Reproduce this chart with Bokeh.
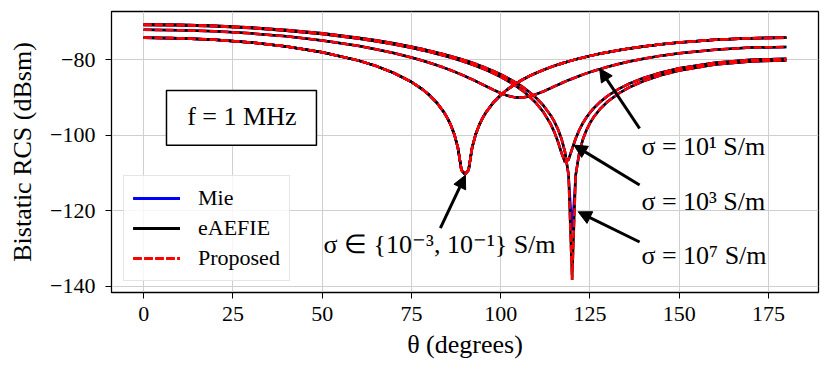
from bokeh.plotting import figure
from bokeh.models import Range1d, FixedTicker, Label, Arrow, NormalHead, BoxAnnotation
from bokeh.embed import file_html
from bokeh.resources import INLINE

# ---------------- data ----------------
theta = [0, 10, 20, 30, 40, 50, 60, 65, 70, 75, 78, 80, 82, 84, 85, 86, 87, 88, 89, 90,
         91, 92, 93, 94, 95, 96, 98, 100, 102, 104, 106, 108, 110, 112, 114, 115, 116, 117,
         118, 119, 120, 121, 122, 123, 124, 125, 126, 128, 130, 133, 136, 140, 145, 150,
         160, 170, 180]

# sigma = 1e-3 S/m and 1e-1 S/m (nearly identical)
rcs_sig_m3 = [-74.10, -74.23, -74.64, -75.35, -76.41, -77.94, -80.12, -81.58, -83.42, -85.84,
              -87.74, -89.31, -91.23, -93.72, -95.29, -97.23, -99.72, -103.24, -109.26, -110.40,
              -109.26, -103.24, -99.72, -97.23, -95.29, -93.72, -91.23, -89.31, -87.74, -86.43,
              -85.29, -84.30, -83.42, -82.63, -81.91, -81.58, -81.26, -80.96, -80.67, -80.39,
              -80.12, -79.86, -79.62, -79.38, -79.15, -78.93, -78.72, -78.31, -77.94, -77.42,
              -76.96, -76.41, -75.83, -75.35, -74.64, -74.23, -74.10]
rcs_sig_m1 = [-74.10, -74.23, -74.64, -75.35, -76.41, -77.94, -80.12, -81.58, -83.42, -85.84,
              -87.74, -89.31, -91.23, -93.72, -95.29, -97.23, -99.72, -103.24, -109.20, -110.20,
              -109.20, -103.24, -99.72, -97.23, -95.29, -93.72, -91.23, -89.31, -87.74, -86.43,
              -85.29, -84.30, -83.42, -82.63, -81.91, -81.58, -81.26, -80.96, -80.67, -80.39,
              -80.12, -79.86, -79.62, -79.38, -79.15, -78.93, -78.72, -78.31, -77.94, -77.42,
              -76.96, -76.41, -75.83, -75.35, -74.64, -74.23, -74.10]
# sigma = 1e1 S/m
rcs_sig_1 = [-72.00, -72.10, -72.42, -72.95, -73.74, -74.82, -76.25, -77.14, -78.16, -79.35,
             -80.15, -80.74, -81.36, -82.02, -82.37, -82.74, -83.11, -83.50, -83.90, -84.31,
             -84.74, -85.18, -85.63, -86.09, -86.56, -87.03, -87.96, -88.82, -89.52, -89.94,
             -89.99, -89.68, -89.09, -88.32, -87.47, -87.04, -86.61, -86.19, -85.78, -85.38,
             -84.99, -84.62, -84.26, -83.91, -83.58, -83.25, -82.94, -82.36, -81.82, -81.08,
             -80.42, -79.66, -78.86, -78.21, -77.27, -76.73, -76.56]
# sigma = 1e3 S/m
rcs_sig_3 = [-70.73, -70.82, -71.09, -71.55, -72.23, -73.14, -74.32, -75.04, -75.86, -76.79,
             -77.41, -77.86, -78.34, -78.84, -79.10, -79.38, -79.66, -79.95, -80.25, -80.57,
             -80.89, -81.23, -81.58, -81.94, -82.32, -82.72, -83.57, -84.51, -85.55, -86.73,
             -88.08, -89.65, -91.54, -93.90, -97.05, -99.09, -101.60, -104.58, -107.11, -106.46,
             -103.59, -100.84, -98.60, -96.78, -95.27, -93.98, -92.86, -91.00, -89.51, -87.71,
             -86.29, -84.78, -83.34, -82.23, -80.74, -79.94, -79.68]
# sigma = 1e7 S/m (eAEFIE / Proposed)
rcs_sig_7 = [-70.58, -70.67, -70.93, -71.39, -72.05, -72.94, -74.10, -74.80, -75.59, -76.50,
             -77.10, -77.53, -77.99, -78.47, -78.72, -78.99, -79.26, -79.53, -79.82, -80.12,
             -80.43, -80.75, -81.08, -81.43, -81.78, -82.16, -82.95, -83.83, -84.79, -85.86,
             -87.08, -88.48, -90.13, -92.13, -94.71, -96.33, -98.30, -100.84, -104.41, -110.47,
             -138.40, -110.56, -104.58, -101.11, -98.66, -96.76, -95.23, -92.84, -91.01, -88.90,
             -87.28, -85.60, -84.02, -82.83, -81.24, -80.39, -80.12]
# sigma = 1e7 S/m (Mie: shallower null at 120 deg)
rcs_sig_7_mie = [-70.58, -70.67, -70.93, -71.39, -72.05, -72.94, -74.10, -74.80, -75.59, -76.50,
                 -77.10, -77.53, -77.99, -78.47, -78.72, -78.99, -79.26, -79.53, -79.82, -80.12,
                 -80.43, -80.75, -81.08, -81.43, -81.78, -82.16, -82.95, -83.83, -84.79, -85.86,
                 -87.08, -88.48, -90.13, -92.13, -94.71, -96.33, -98.30, -100.84, -104.41, -110.47,
                 -125.20, -110.56, -104.58, -101.11, -98.66, -96.76, -95.23, -92.84, -91.01, -88.90,
                 -87.28, -85.60, -84.02, -82.83, -81.24, -80.39, -80.12]

mie_curves = [rcs_sig_m3, rcs_sig_m1, rcs_sig_1, rcs_sig_3, rcs_sig_7_mie]
aefie_curves = [rcs_sig_m3, rcs_sig_m1, rcs_sig_1, rcs_sig_3, rcs_sig_7]
proposed_curves = [rcs_sig_m3, rcs_sig_m1, rcs_sig_1, rcs_sig_3, rcs_sig_7]

xtick_vals = [0, 25, 50, 75, 100, 125, 150, 175]
ytick_vals = [-140, -120, -100, -80]
ytick_labels = ["\u2212140", "\u2212120", "\u2212100", "\u221280"]

FONT = "Liberation Serif"

# ---------------- figure ----------------
p = figure(width=822, height=362,
           x_range=Range1d(-9, 189), y_range=Range1d(-141.7, -67.15),
           output_backend="svg", toolbar_location=None,
           min_border_left=111, min_border_right=4, min_border_top=11, min_border_bottom=70)
p.background_fill_color = "white"
p.border_fill_color = "white"
p.outline_line_color = "black"
p.outline_line_width = 1.3

for ax in (p.xaxis, p.yaxis):
    ax.major_label_text_font = FONT
    ax.major_label_text_font_size = "22px"
    ax.major_label_text_color = "black"
    ax.axis_label_text_font = FONT
    ax.axis_label_text_font_size = "26px"
    ax.axis_label_text_font_style = "normal"
    ax.axis_label_text_color = "black"
    ax.axis_line_color = "black"
    ax.major_tick_line_color = "black"
    ax.major_tick_out = 6
    ax.major_tick_in = 0
    ax.minor_tick_line_color = None

p.xaxis.ticker = FixedTicker(ticks=xtick_vals)
p.yaxis.ticker = FixedTicker(ticks=ytick_vals)
p.yaxis.major_label_overrides = {v: s for v, s in zip(ytick_vals, ytick_labels)}
p.xaxis.axis_label = "\u03b8 (degrees)"
p.yaxis.axis_label = "Bistatic RCS (dBsm)"
p.xaxis.major_label_standoff = 8
p.yaxis.major_label_standoff = 10
p.xaxis.axis_label_standoff = 6
p.yaxis.axis_label_standoff = 10

p.xgrid.ticker = FixedTicker(ticks=xtick_vals)
p.ygrid.ticker = FixedTicker(ticks=ytick_vals)
p.grid.grid_line_color = "#cfcfcf"
p.grid.grid_line_width = 1

# ---------------- curves ----------------
for c in mie_curves:
    p.line(theta, c, line_color="#0000ff", line_width=2.5, legend_label="Mie")
for c in aefie_curves:
    p.line(theta, c, line_color="black", line_width=2.5, legend_label="eAEFIE")
for c in proposed_curves:
    p.line(theta, c, line_color="#ff0000", line_width=2.5, line_dash="8 3",
           legend_label="Proposed")

# ---------------- legend ----------------
lg = p.legend[0]
lg.location = (12, 11)
lg.margin = 0
lg.padding = 9
lg.spacing = 4
lg.glyph_width = 47
lg.glyph_height = 26
lg.label_height = 26
lg.label_standoff = 18
lg.label_text_font = FONT
lg.label_text_font_size = "22px"
lg.label_text_color = "black"
lg.border_line_color = "#cccccc"
lg.border_line_width = 1
lg.background_fill_color = "white"
lg.background_fill_alpha = 0.8

# ---------------- f = 1 MHz box ----------------
p.add_layout(BoxAnnotation(left=6.4, right=48.4, top=-88.1, bottom=-102.65,
                           fill_color="white", fill_alpha=1.0,
                           line_color="black", line_alpha=1.0, line_width=1.5))
p.add_layout(Label(x=27.5, y=-95.1, text="f = 1 MHz", text_align="center",
                   text_baseline="middle", text_font=FONT, text_font_size="26px",
                   text_color="black"))

# ---------------- annotations ----------------
arrows = [
    (83.1, -124.6, 90.1, -110.6),
    (138.9, -98.2, 127.7, -82.3),
    (138.9, -113.2, 120.5, -102.6),
    (138.9, -128.3, 121.7, -120.3),
]
for xs, ys, xe, ye in arrows:
    p.add_layout(Arrow(end=NormalHead(size=13, fill_color="black", line_color="black"),
                       x_start=xs, y_start=ys, x_end=xe, y_end=ye,
                       line_color="black", line_width=3))

labels = [
    (50.4, -128.9, "\u03c3 \u2208 {10\u207b\u00b3, 10\u207b\u00b9} S/m"),
    (139.4, -102.9, "\u03c3 = 10\u00b9 S/m"),
    (139.4, -117.5, "\u03c3 = 10\u00b3 S/m"),
    (139.4, -132.0, "\u03c3 = 10\u2077 S/m"),
]
for x, y, t in labels:
    p.add_layout(Label(x=x, y=y, text=t, text_align="left", text_baseline="middle",
                       text_font=FONT, text_font_size="26px", text_color="black"))

open("out.html", "w").write(file_html(p, INLINE))
